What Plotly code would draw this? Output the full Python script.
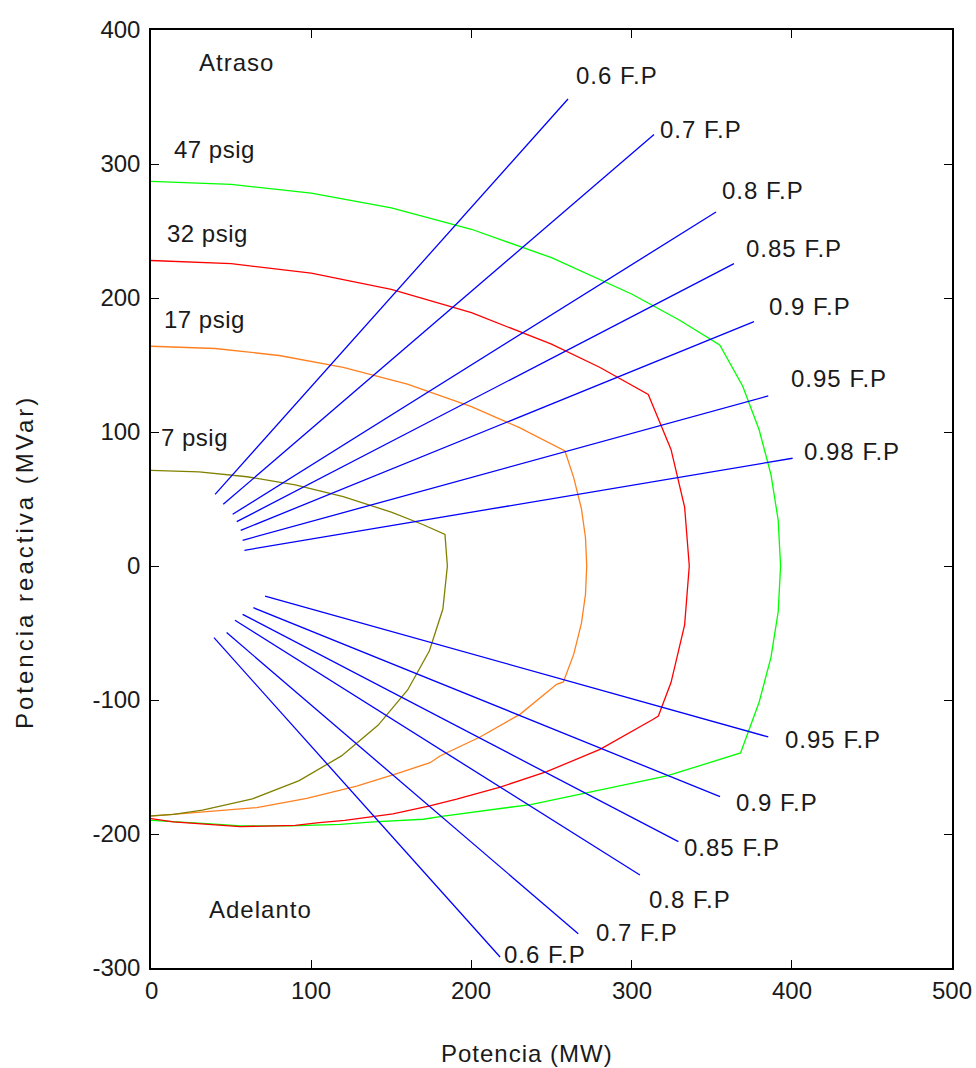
import plotly.graph_objects as go

# ---- Capability curves of the generator at four hydrogen pressures (P in MW, Q in MVar) ----
pressure_labels = ["47 psig", "32 psig", "17 psig", "7 psig"]

p_47 = [0, 50, 100, 150, 200, 250, 300, 330, 355, 369.3, 379.6, 387.0, 391.5, 393,
        391.5, 387.0, 379.6, 368, 322, 272, 237, 182.5, 170, 139, 118, 87, 56, 35, 14, 0]
q_47 = [287, 284.8, 278.3, 267.2, 251.3, 230.1, 203.0, 183.4, 165, 134.4, 101.7, 68.2, 34.3, 0,
        -34.3, -68.2, -101.7, -139.5, -156.7, -169.2, -178, -186.6, -189, -191, -192.8, -194,
        -194, -192.3, -191, -189.8]

p_32 = [0, 50, 100, 150, 200, 250, 280, 310.4, 324.6, 333.1, 336, 333.1, 324.6, 316.7,
        313.5, 280.3, 247, 218, 190.8, 174, 151, 132, 121, 105, 90, 55.6, 34.5, 14, 0]
q_32 = [228, 225.6, 218.5, 206.4, 189.0, 165.6, 148.3, 128, 87, 43.9, 0, -43.9, -87, -112,
        -114.4, -136.8, -153.5, -165, -174, -179, -185, -188, -189.8, -191.5, -193.5, -194.5,
        -192.8, -191, -188.5]

p_17 = [0, 40, 80, 120, 160, 200, 230, 258.4, 263.9, 268.7, 271.2, 272, 271.2, 268.7, 263.9,
        257.4, 253.2, 230.3, 205.4, 180.4, 174.2, 155.4, 128.4, 97.2, 66, 34.8, 0]
q_17 = [164, 162.3, 157.1, 148.3, 135.7, 118.9, 103.3, 85.8, 65.8, 42.6, 21.3, 0, -21.3, -42.6,
        -65.8, -86.5, -88.3, -110.7, -127.6, -141.8, -146.8, -154.2, -164.2, -173.4, -180.3,
        -183.3, -186.6]

p_7 = [0, 30, 60, 90, 120, 150, 170, 183.5, 185, 182.2, 173.8, 160.2, 141.7, 118.9, 92.5,
       63.3, 32.1, 14, 0]
q_7 = [71.4, 70.2, 66.6, 60.5, 51.7, 40.2, 30.8, 23.6, 0, -32.1, -63.3, -92.5, -118.9, -141.7,
       -160.2, -173.8, -182.2, -185.3, -186.5]

# ---- Constant power-factor lines ----
fp_lag = ["0.6", "0.7", "0.8", "0.85", "0.9", "0.95", "0.98"]
lag_p0 = [40.0, 45.1, 51.0, 53.5, 56.0, 57.2, 58.3]
lag_q0 = [53.5, 46.0, 38.6, 33.1, 26.6, 19.2, 11.7]
lag_p1 = [260.3, 314.0, 352.7, 363.9, 376.4, 385.3, 400.5]
lag_q1 = [348.5, 322.0, 264.2, 225.6, 182.3, 126.9, 80.4]

fp_lead = ["0.6", "0.7", "0.8", "0.85", "0.9", "0.95"]
lead_p0 = [39.3, 47.2, 52.4, 57.2, 63.9, 71.2]
lead_q0 = [-53.5, -49.7, -40.5, -36.1, -31.1, -22.4]
lead_p1 = [217.9, 266.7, 305.2, 329.2, 355.2, 385.3]
lead_q1 = [-291.8, -274.4, -230.6, -205.7, -172.1, -127.6]

# ---- Axes ----
x_ticks = [0, 100, 200, 300, 400, 500]
y_ticks = [-300, -200, -100, 0, 100, 200, 300, 400]

FONT = "Liberation Sans, Arial, sans-serif"
INK = "#1a1a1a"
W, H = 976, 1068
ML, MR, MT, MB = 151, 24, 30, 100
PW, PH = W - ML - MR, H - MT - MB

fig = go.Figure()

curve_colors = ["#00ff00", "#ff0000", "#ff8020", "#808000"]
curves = [(p_47, q_47), (p_32, q_32), (p_17, q_17), (p_7, q_7)]
for (px, qy), col, name in zip(curves, curve_colors, pressure_labels):
    fig.add_trace(go.Scatter(x=px, y=qy, mode="lines", name=name,
                             line=dict(color=col, width=1.3), hoverinfo="skip"))

for fp, a, b, c, d in zip(fp_lag, lag_p0, lag_q0, lag_p1, lag_q1):
    fig.add_trace(go.Scatter(x=[a, c], y=[b, d], mode="lines", name=fp + " F.P",
                             line=dict(color="#0000ff", width=1.3), hoverinfo="skip"))
for fp, a, b, c, d in zip(fp_lead, lead_p0, lead_q0, lead_p1, lead_q1):
    fig.add_trace(go.Scatter(x=[a, c], y=[b, d], mode="lines", name=fp + " F.P",
                             line=dict(color="#0000ff", width=1.3), hoverinfo="skip"))


def spaced(text, px):
    return '<span style="letter-spacing:%spx">%s</span>' % (px, text)


annotations = []

# power-factor labels (left edge, vertical centre) in data units
lag_label_pos = [(264.7, 365.7), (317.1, 326.1), (355.8, 279.9), (370.8, 236.6),
                 (385.1, 194.0), (398.9, 139.6), (407.0, 85.8)]
lead_label_pos = [(219.9, -289.8), (277.2, -273.6), (310.4, -248.7), (332.3, -210.2),
                  (364.5, -176.6), (394.9, -129.3)]
for fp, (lx, ly) in zip(fp_lag, lag_label_pos):
    annotations.append(dict(x=lx, y=ly, text=spaced(fp + " F.P", 1)))
for fp, (lx, ly) in zip(fp_lead, lead_label_pos):
    annotations.append(dict(x=lx, y=ly, text=spaced(fp + " F.P", 1)))

psig_pos = [(13.7, 310.9), (9.4, 247.8), (7.7, 184.3), (5.6, 95.7)]
for lab, (lx, ly) in zip(pressure_labels, psig_pos):
    annotations.append(dict(x=lx, y=ly, text=spaced(lab, 0.5)))

annotations.append(dict(x=29.5, y=375.6, text=spaced("Atraso", 1)))
annotations.append(dict(x=35.8, y=-256.0, text=spaced("Adelanto", 1)))

for a in annotations:
    a.update(xref="x", yref="y", xanchor="left", yanchor="middle", showarrow=False,
             font=dict(family=FONT, size=24, color=INK), borderpad=0)

# x tick labels written under the axis (the last one reaches the page edge)
for v in x_ticks:
    annotations.append(dict(xref="x", yref="paper", x=v, y=(H - MB - 991) / PH,
                            xanchor="center", yanchor="middle", showarrow=False,
                            text=str(v), borderpad=0,
                            font=dict(family=FONT, size=24, color=INK)))

# axis titles, placed in page pixels converted to paper fractions
annotations.append(dict(xref="paper", yref="paper", x=(527.4 - ML) / PW, y=(H - MB - 1053) / PH,
                        xanchor="center", yanchor="middle", showarrow=False,
                        text=spaced("Potencia (MW)", 1),
                        font=dict(family=FONT, size=24, color=INK)))
annotations.append(dict(xref="paper", yref="paper", x=(24 - ML) / PW, y=(H - MB - 562) / PH,
                        xanchor="center", yanchor="middle", showarrow=False, textangle=-90,
                        text=spaced("Potencia reactiva (MVar)", 3),
                        font=dict(family=FONT, size=24, color=INK)))

axis_common = dict(showgrid=False, zeroline=False, showline=True, linecolor="#000000",
                   linewidth=1.5, mirror="ticks", ticks="inside", ticklen=8, tickwidth=1.3,
                   tickcolor="#000000", automargin=False,
                   tickfont=dict(family=FONT, size=24, color=INK))

fig.update_layout(
    width=W, height=H, autosize=False,
    margin=dict(l=ML, r=MR, t=MT, b=MB),
    paper_bgcolor="#ffffff", plot_bgcolor="#ffffff",
    showlegend=False,
    xaxis=dict(range=[0, 500], tickvals=x_ticks, showticklabels=False, **axis_common),
    yaxis=dict(range=[-300, 400], tickvals=y_ticks, ticktext=[str(v) for v in y_ticks],
               ticklabelstandoff=4, **axis_common),
    annotations=annotations,
)

fig.write_html(
    "out.html",
    config={"responsive": False, "displayModeBar": False},
    default_width="%dpx" % W,
    default_height="%dpx" % H,
    post_script="document.body.style.margin='0';document.body.style.overflow='hidden';",
)
